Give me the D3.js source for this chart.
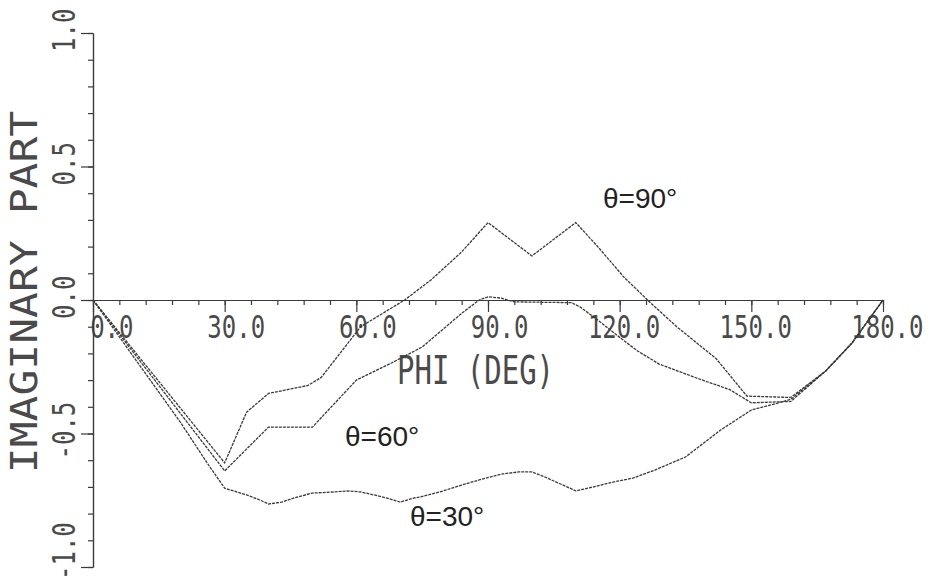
<!DOCTYPE html>
<html>
<head>
<meta charset="utf-8">
<script src="https://cdn.jsdelivr.net/npm/d3@7"></script>
<style>
  body { margin: 0; background: #fff; }
  .axis path, .axis line { stroke: #3a3a3a; stroke-width: 1.2; }
  .mono { font-family: "DejaVu Sans Mono", monospace; fill: #4a4a4a; }
  .lbl { font-family: "Liberation Sans", Arial, sans-serif; fill: #222; font-size: 28px; }
</style>
</head>
<body>
<div class="chart-container"></div>
<script>
// phi in degrees, imaginary part
const theta90 = [
  [0, 0], [30, -0.61], [35, -0.42], [40, -0.35], [49, -0.32], [52, -0.29],
  [61, -0.1], [69, -0.02], [71, 0], [77, 0.075], [84, 0.18], [90, 0.29],
  [100, 0.165], [110, 0.29], [115, 0.2], [121, 0.085], [127, -0.01],
  [133, -0.1], [142, -0.22], [149, -0.36], [159, -0.365], [167, -0.265],
  [173, -0.16], [180, 0]
];

const theta60 = [
  [0, 0], [30, -0.64], [40, -0.476], [50, -0.476], [60, -0.3], [68, -0.236],
  [75, -0.176], [84, -0.05], [88, 0], [90, 0.012], [93, 0.007], [96, -0.007],
  [109, -0.01], [111, -0.026], [115, -0.075], [120, -0.14], [124, -0.19],
  [129, -0.24], [138, -0.295], [145, -0.335], [150, -0.385], [159, -0.38],
  [167, -0.265], [173, -0.16], [180, 0]
];

const theta30 = [
  [0, 0], [20, -0.46], [26, -0.61], [30, -0.705], [33, -0.72], [35, -0.73],
  [38, -0.749], [40, -0.764], [43, -0.757], [46.5, -0.738], [50, -0.723],
  [55, -0.719], [58, -0.715], [61, -0.719], [64, -0.73], [67, -0.742],
  [70, -0.757], [73, -0.742], [74.5, -0.738], [79, -0.719], [84, -0.693],
  [88, -0.674], [93, -0.652], [97, -0.644], [100, -0.644], [103, -0.663],
  [108, -0.7], [110, -0.715], [113, -0.704], [118.5, -0.682], [123, -0.667],
  [128, -0.637], [135, -0.588], [143, -0.487], [150, -0.412], [156, -0.386],
  [159, -0.372], [167, -0.265], [173, -0.16], [180, 0]
];

const curveLabels = ["\u03b8=90\u00b0", "\u03b8=60\u00b0", "\u03b8=30\u00b0"];
const xMajor = [0, 30, 60, 90, 120, 150, 180];
const yMajor = [1.0, 0.5, 0.0, -0.5, -1.0];

const width = 935, height = 583;
const fmt = d3.format(".1f");
const stretch = 1.3; // plotter glyphs are tall and narrow

var svg = d3.select(".chart-container")
  .append("svg")
  .attr("width", width)
  .attr("height", height);

var x = d3.scaleLinear().domain([0, 180]).range([93, 883]);
var y = d3.scaleLinear().domain([-1, 1]).range([567, 33]);

// x axis sits on y = 0, minor tick every 6 deg
var xMinor = d3.range(0, 181, 6);
svg.append("g")
  .attr("class", "axis")
  .attr("transform", "translate(0," + y(0) + ")")
  .call(d3.axisBottom(x).tickValues(xMinor).tickSize(5).tickSizeOuter(0).tickFormat(""));

var gx = svg.append("g")
  .attr("class", "axis")
  .attr("transform", "translate(0," + y(0) + ")")
  .call(d3.axisBottom(x).tickValues(xMajor).tickSize(12).tickSizeOuter(0).tickFormat(fmt));

gx.selectAll("text")
  .attr("class", "mono")
  .attr("font-size", 24)
  .attr("text-anchor", "end")
  .attr("x", 40)
  .attr("y", 38 / stretch)
  .attr("dy", 0)
  .attr("transform", "scale(1," + stretch + ")");

// y axis, minor tick every 0.1
var yMinor = d3.range(-10, 11).map(function (d) { return d / 10; });
svg.append("g")
  .attr("class", "axis")
  .attr("transform", "translate(" + x(0) + ",0)")
  .call(d3.axisLeft(y).tickValues(yMinor).tickSize(5).tickSizeOuter(0).tickFormat(""));

svg.append("g")
  .attr("class", "axis")
  .attr("transform", "translate(" + x(0) + ",0)")
  .call(d3.axisLeft(y).tickValues(yMajor).tickSize(12).tickSizeOuter(0).tickFormat(""));

svg.selectAll(".ylab")
  .data(yMajor)
  .enter()
  .append("text")
  .attr("class", "mono ylab")
  .attr("font-size", 24)
  .attr("text-anchor", "start")
  .attr("transform", function (d) {
    var start = d < 0 ? Math.min(y(d) + 26, 580) : y(d) + 19;
    return "translate(75," + start + ")rotate(-90)scale(1," + stretch + ")";
  })
  .text(function (d) { return fmt(d).replace("\u2212", "-"); });

// axis titles
svg.append("text")
  .attr("class", "mono")
  .attr("font-size", 29)
  .attr("x", 397)
  .attr("y", 384 / 1.33)
  .attr("transform", "scale(1,1.33)")
  .text("PHI (DEG)");

svg.append("text")
  .attr("class", "mono")
  .attr("font-size", 43)
  .attr("text-anchor", "middle")
  .attr("transform", "translate(37,292)rotate(-90)scale(1,0.86)")
  .text("IMAGINARY PART");

// curves
var line = d3.line()
  .x(function (d) { return x(d[0]); })
  .y(function (d) { return y(d[1]); });

svg.selectAll(".curve")
  .data([theta90, theta60, theta30])
  .enter()
  .append("path")
  .attr("class", "curve")
  .attr("fill", "none")
  .attr("stroke", "#3a3a3a")
  .attr("stroke-width", 1.3)
  .attr("stroke-dasharray", "3,1")
  .attr("d", line);

// labels next to curves
var labelPos = [[603, 208], [345, 446], [410, 526]];
svg.selectAll(".clabel")
  .data(curveLabels)
  .enter()
  .append("text")
  .attr("class", "lbl clabel")
  .attr("x", function (d, i) { return labelPos[i][0]; })
  .attr("y", function (d, i) { return labelPos[i][1]; })
  .text(function (d) { return d; });
</script>
</body>
</html>
